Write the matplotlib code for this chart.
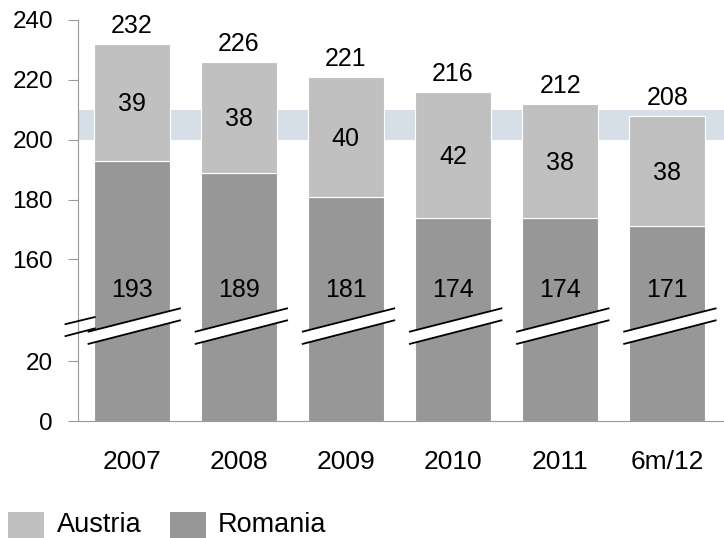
import numpy as np
import matplotlib.pyplot as plt
from matplotlib.patches import Rectangle

plt.rcParams['font.family'] = ['Liberation Sans', 'DejaVu Sans']

years = ['2007', '2008', '2009', '2010', '2011', '6m/12']
romania = [193, 189, 181, 174, 174, 171]
austria = [39, 38, 40, 42, 38, 38]
totals = [232, 226, 221, 216, 212, 208]
yticks = [0, 20, 160, 180, 200, 220, 240]

CUT = 106  # values above the break are shifted down by this much
BREAK_LO = 20


def shift(v):
    v = np.asarray(v, dtype=float)
    return np.where(v > BREAK_LO + 10, v - CUT, v)


c_aut = '#c0c0c0'
c_rom = '#979797'
W, H = 724, 538

fig = plt.figure(figsize=(W / 100, H / 100), dpi=100)
ax = fig.add_axes([78 / W, 117 / H, 646 / W, 401 / H])

x = np.arange(len(years))
w = 0.71

# target band 200-210
ax.axhspan(shift(200), shift(210), color='#d6dee7', zorder=0, lw=0)

rom_top = shift(romania)
tot_top = shift(totals)
ax.bar(x, rom_top, w, color=c_rom, edgecolor='white', lw=0.8, zorder=2)
ax.bar(x, tot_top - rom_top, w, bottom=rom_top, color=c_aut,
       edgecolor='white', lw=0.8, zorder=2)

# break marks across each bar
for xi in x:
    xl, xr = xi - 0.41, xi + 0.46
    ax.fill([xl, xr, xr, xl], [25.7, 33.7, 37.7, 29.8], color='white',
            zorder=3, lw=0)
    ax.plot([xl, xr], [29.8, 37.7], color='black', lw=1.3, zorder=4,
            solid_capstyle='butt')
    ax.plot([xl, xr], [25.7, 33.7], color='black', lw=1.3, zorder=4,
            solid_capstyle='butt')

# break marks on the y axis
ax.plot([-0.625, -0.336], [32.3, 34.8], color='black', lw=1.3,
        clip_on=False, zorder=4, solid_capstyle='butt')
ax.plot([-0.625, -0.336], [28.3, 31.0], color='black', lw=1.3,
        clip_on=False, zorder=4, solid_capstyle='butt')

# labels
for xi, r, a, t, rt, tt in zip(x, romania, austria, totals, rom_top, tot_top):
    ax.annotate(str(t), (xi, tt), xytext=(0, 8), textcoords='offset points',
                ha='center', va='baseline', fontsize=18)
    ax.annotate(str(a), (xi, (rt + tt) / 2), xytext=(0, -6.5),
                textcoords='offset points', ha='center', va='baseline',
                fontsize=18, zorder=5)
    ax.text(xi, 41.3, str(r), ha='center', va='baseline', fontsize=18,
            zorder=5)

ax.set_xlim(-0.5, 5.53)
ax.set_ylim(0, shift(240))
ax.set_yticks(shift(yticks))
ax.set_yticklabels([str(v) for v in yticks])
ax.set_xticks(x)
ax.set_xticklabels(years)

for s in ['top', 'right']:
    ax.spines[s].set_visible(False)
for s in ['left', 'bottom']:
    ax.spines[s].set_color('#9a9a9a')
    ax.spines[s].set_linewidth(0.8)

ax.tick_params(axis='y', length=7, width=0.8, color='#9a9a9a', pad=11,
               labelsize=17.5)
ax.tick_params(axis='x', length=0, pad=21, labelsize=19)

# legend along the bottom edge
legend_items = [('Austria', c_aut, 8, 57), ('Romania', c_rom, 170, 218)]
for name, col, sx, tx in legend_items:
    fig.patches.append(Rectangle((sx / W, -4 / H), 36 / W, 30 / H,
                                 transform=fig.transFigure, color=col, lw=0))
    fig.text(tx / W, 6 / H, name, ha='left', va='baseline', fontsize=19.5)

fig.savefig('out.png', dpi=100)
